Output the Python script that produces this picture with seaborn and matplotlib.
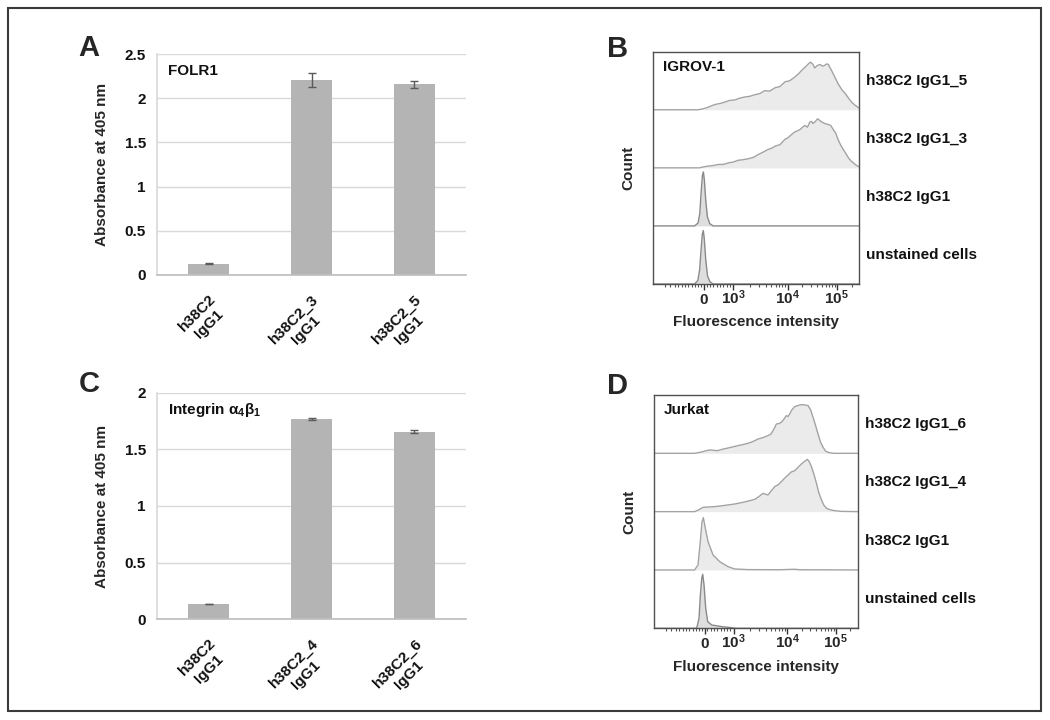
import numpy as np
import pandas as pd
import matplotlib
matplotlib.use("Agg")
import matplotlib.pyplot as plt
from matplotlib.patches import Rectangle
import seaborn as sns

# ---------------- data ----------------
A_categories = ["h38C2\nIgG1", "h38C2_3\nIgG1", "h38C2_5\nIgG1"]
A_values = [0.13, 2.21, 2.16]
A_errors = [0.005, 0.08, 0.04]
A_ticks = [0, 0.5, 1, 1.5, 2, 2.5]

C_categories = ["h38C2\nIgG1", "h38C2_4\nIgG1", "h38C2_6\nIgG1"]
C_values = [0.135, 1.765, 1.655]
C_errors = [0.004, 0.01, 0.015]
C_ticks = [0, 0.5, 1, 1.5, 2]

# flow histograms: x in display channels (0-256), y in % of lane height
B_labels = ["h38C2 IgG1_5", "h38C2 IgG1_3", "h38C2 IgG1", "unstained cells"]
B1_x = [0, 56, 62, 68, 77, 84, 89, 95, 102, 108, 114, 120, 127, 133, 139, 145, 152, 158, 164, 170,
        176, 181, 185, 188, 191, 194, 196, 199, 201, 204, 207.5, 211, 214, 216, 218, 221, 224, 230, 235, 239,
        243, 247, 251, 254, 256]
B1_y = [0, 0, 1.5, 4, 9, 11, 13, 16, 17, 20, 22, 23, 26, 28, 33, 32, 38, 40, 48, 50,
        56, 62, 68, 72, 76, 80, 82, 78, 72, 76, 78, 75, 77, 79, 78, 70, 62, 45, 34, 28,
        20, 13, 8, 5, 3]
B2_x = [0, 58, 64, 69, 75, 81, 88, 94, 100, 106, 112, 118, 125, 131, 137, 143, 148, 152, 158, 164,
        168, 172, 176, 180, 183, 186, 189, 192, 195, 197, 199, 202, 204.6, 207, 210, 214, 218, 221, 224, 227,
        230, 233, 236.5, 240, 243, 246, 249, 252, 256]
B2_y = [0, 0, 2, 3, 4, 5.7, 6, 8.6, 10, 13, 14, 15.5, 18, 23, 27, 31.6, 34, 37.4, 40, 49,
        52, 57, 61.6, 64, 66, 70, 73, 70, 78.8, 80, 76.4, 80, 84.5, 82, 78.8, 76, 74.7, 73, 66, 60,
        49, 40, 31.6, 24, 17, 12, 8.6, 5, 2]
B3_x = [0, 52, 56.3, 58.4, 60.0, 61.7, 62.9, 64.1, 65.8, 67.9, 70.8, 75, 256]
B3_y = [0, 0, 5, 21, 56, 87, 93, 79, 44, 15.5, 4, 0, 0]
B4_x = [0, 52, 56, 58.2, 60, 61.6, 62.8, 64, 65.8, 68, 71, 75, 256]
B4_y = [0, 0, 6, 24, 58, 86, 92, 78, 42, 14, 4, 0, 0]

D_labels = ["h38C2 IgG1_6", "h38C2 IgG1_4", "h38C2 IgG1", "unstained cells"]
D1_x = [0, 51, 57, 62.7, 67, 71, 76, 80, 86, 93, 99, 105.6, 112, 118, 124, 130.7, 137, 143.3, 147, 149.6,
        152, 153.8, 157, 160.1, 163, 166.4, 168.5, 170.6, 173, 176.9, 181, 185.3, 189, 193.7, 197, 199.9, 203, 206.2, 209, 212.5,
        215.5, 218.7, 223, 227, 256]
D1_y = [0, 0, 1.5, 3.4, 5, 5.7, 5, 4.6, 7, 9.1, 11, 13.2, 15, 17.2, 20, 24.5, 27, 30.4, 33, 38.9,
        45, 50.3, 51, 53.2, 58, 64.7, 63, 67.4, 74, 80.1, 82, 83.5, 83, 81.8, 74, 61.7, 48, 33.1, 20, 10.3,
        4, 1.7, 0.5, 0, 0]
D2_x = [0, 51, 56, 61.6, 68, 76.3, 85, 93, 101, 109.8, 118, 126.5, 132, 137, 140, 143.3, 147, 151.7, 156, 160.1,
        164, 168.5, 172.5, 176.9, 181, 185.3, 189, 192.8, 195, 197.9, 201, 204.2, 207, 210.5, 213.5, 216.8, 222, 227, 235, 256]
D2_y = [0, 0, 3, 7.4, 8, 8.6, 10, 11.5, 13, 15.4, 18, 21.1, 26, 31.4, 30, 28.6, 35, 42.9, 46, 51.5,
        57, 62.9, 68, 70.3, 76, 81.8, 86, 89.7, 86, 77.2, 64, 48.5, 33, 20.1, 11, 5.7, 3, 1.7, 0.5, 0]
D3_x = [0, 51, 55.3, 58.2, 60.3, 62.0, 64.5, 67.9, 74.2, 82.6, 93, 101.4, 118, 160, 170, 176.8, 183, 256]
D3_y = [0, 0, 8.6, 48.6, 82.3, 89.7, 71.5, 48.6, 25.7, 14.3, 5.7, 1.7, 0.6, 0.4, 1, 1.2, 0.4, 0]
D4_x = [0, 53.6, 56.6, 58.3, 60.0, 61.2, 62.9, 65.0, 67.5, 72.5, 85.1, 97.7, 103, 256]
D4_y = [0, 0, 17, 57, 86, 92.6, 74, 34, 11.4, 5.7, 2.9, 1, 0, 0]

flow_tick_pos = [63.5, 100.2, 167.5, 228.4]
flow_tick_labels = [r"$\mathbf{0}$", r"$\mathbf{10^3}$", r"$\mathbf{10^4}$", r"$\mathbf{10^5}$"]
flow_minor_pos = [15.3, 21.5, 27.7, 31.9, 36.0, 40.1, 44.3, 48.4, 52.6, 56.7, 60, 67.1, 71.2, 75.3,
                  79.5, 83.6, 87.8, 91.9, 96.1, 120.5, 132.3, 140.7, 147.2, 152.6, 157.1, 161.0, 164.4,
                  185.8, 196.6, 204.2, 210.1, 214.9, 219.0, 222.5, 225.6, 246.7]

# ---------------- style ----------------
sns.set_theme(style="white")
plt.rcParams["font.family"] = ["Liberation Sans", "DejaVu Sans"]
plt.rcParams["font.weight"] = "bold"
plt.rcParams["mathtext.fontset"] = "custom"
plt.rcParams["mathtext.rm"] = "Liberation Sans:bold"
plt.rcParams["mathtext.bf"] = "Liberation Sans:bold"
plt.rcParams["mathtext.it"] = "Liberation Sans:bold"
FS = 11

W, H = 1050, 720
fig = plt.figure(figsize=(W / 100, H / 100), dpi=100)


def rect(l, t, r, b):
    return [l / W, 1 - b / H, (r - l) / W, (b - t) / H]


def bar_panel(pos, cats, vals, errs, ticks, note):
    ax = fig.add_axes(pos)
    df = pd.DataFrame({"cat": cats, "val": vals})
    sns.barplot(data=df, x="cat", y="val", ax=ax, color="#b4b4b4", width=0.4,
                saturation=1, errorbar=None, edgecolor="none")
    ax.errorbar(range(len(vals)), vals, yerr=errs, fmt="none", ecolor="#5a5a5a",
                elinewidth=1, capsize=3, capthick=1)
    ax.set_xlim(-0.5, len(vals) - 0.5)
    ax.set_ylim(0, ticks[-1])
    ax.set_yticks(ticks)
    ax.set_yticklabels([f"{t:g}" for t in ticks], fontsize=FS, fontweight="bold")
    ax.yaxis.grid(True, color="#d9d9d9", lw=1)
    ax.set_axisbelow(True)
    for s in ["top", "right"]:
        ax.spines[s].set_visible(False)
    ax.spines["left"].set_color("#d9d9d9")
    ax.spines["bottom"].set_color("#bfbfbf")
    ax.tick_params(axis="both", length=0, pad=8, colors="#111111")
    ax.set_xticks(range(len(vals)))
    ax.set_xticklabels(cats, rotation=45, ha="right", va="top", rotation_mode="anchor",
                       ma="center", fontsize=FS, fontweight="bold")
    ax.tick_params(axis="x", pad=12)
    ax.set_xlabel("")
    ax.set_ylabel("Absorbance at 405 nm", fontsize=FS, fontweight="bold", labelpad=11)
    ax.text(0.035, 0.925, note, transform=ax.transAxes, fontsize=FS, fontweight="bold",
            ha="left", va="center", color="#111111")
    return ax


def flow_panel(pos, xs, ys, labels, note):
    ax = fig.add_axes(pos)
    n = len(xs)
    for i, (x, y) in enumerate(zip(xs, ys)):
        off = (n - 1 - i) * 100
        yy = off + np.asarray(y, dtype=float)
        narrow = max(x[1:-1]) < 120 if len(x) > 2 else False
        ax.fill_between(x, off, yy, color="#ebebeb" if not narrow else "#dedede", lw=0, zorder=1)
        sns.lineplot(x=x, y=yy, ax=ax, sort=False, estimator=None,
                     color="#8a8a8a" if narrow else "#a3a3a3", lw=1.0, zorder=2)
        ax.text(1.035, (off + 50) / (n * 100), labels[i], transform=ax.transAxes,
                fontsize=FS, fontweight="bold", ha="left", va="center", color="#111111")
    ax.set_xlim(0, 256)
    ax.set_ylim(0, n * 100)
    ax.set_yticks([])
    ax.set_xticks(flow_tick_pos)
    ax.set_xticklabels(flow_tick_labels, fontsize=FS, fontweight="bold")
    for lab in ax.get_xticklabels():
        lab.set_va("baseline")
    ax.set_xticks(flow_minor_pos, minor=True)
    ax.tick_params(axis="x", which="major", direction="out", length=4, width=1,
                   color="#333333", pad=10.5, bottom=True)
    ax.tick_params(axis="x", which="minor", direction="out", length=2, width=0.8,
                   color="#555555", bottom=True)
    for s in ax.spines.values():
        s.set_visible(True)
        s.set_color("#505050")
        s.set_linewidth(1.0)
    ax.set_xlabel("")
    ax.set_ylabel("")
    ax.text(0.5, -0.165, "Fluorescence intensity", transform=ax.transAxes, fontsize=FS,
            fontweight="bold", ha="center", va="center")
    ax.text(-0.12, 0.5, "Count", transform=ax.transAxes, rotation=90, fontsize=FS,
            fontweight="bold", ha="center", va="center")
    ax.text(0.05, 0.935, note, transform=ax.transAxes, fontsize=FS, fontweight="bold",
            ha="left", va="center", color="#111111")
    return ax


bar_panel(rect(157, 54, 466, 275), A_categories, A_values, A_errors, A_ticks, "FOLR1")
bar_panel(rect(157, 392.7, 466, 619.3), C_categories, C_values, C_errors, C_ticks,
          r"Integrin α$\mathbf{_4}$β$\mathbf{_1}$")
flow_panel(rect(652.7, 51.7, 859, 284), [B1_x, B2_x, B3_x, B4_x], [B1_y, B2_y, B3_y, B4_y],
           B_labels, "IGROV-1")
flow_panel(rect(654, 395, 857.7, 628.3), [D1_x, D2_x, D3_x, D4_x], [D1_y, D2_y, D3_y, D4_y],
           D_labels, "Jurkat")

for letter, (px, py) in zip("ABCD", [(89, 48.5), (617.5, 49), (89, 384), (617.5, 386)]):
    fig.text(px / W, 1 - py / H, letter, fontsize=21, fontweight="bold", ha="center", va="center")

fig.patches.append(Rectangle((8 / W, 1 - 711 / H), 1033 / W, 703 / H, transform=fig.transFigure,
                             fill=False, edgecolor="#3a3a3a", lw=1.5))

fig.savefig("out.png", dpi=100)
